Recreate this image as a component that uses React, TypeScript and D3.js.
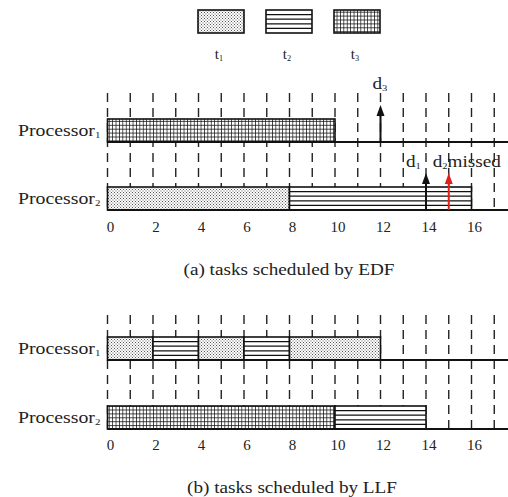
import React from "react";
import * as d3 from "d3";

// tasks shown in the legend (id -> fill pattern)
const tasks = [1, 2, 3];

// schedules: [task, start, end]
const edfP1: [number, number, number][] = [[3, 0, 10]];
const edfP2: [number, number, number][] = [
  [1, 0, 8],
  [2, 8, 16],
];
const llfP1: [number, number, number][] = [
  [1, 0, 2],
  [2, 2, 4],
  [1, 4, 6],
  [2, 6, 8],
  [1, 8, 12],
];
const llfP2: [number, number, number][] = [
  [3, 0, 10],
  [2, 10, 14],
];

// deadlines on EDF chart: [label, sub, time, row, missed]
const edfDeadlines: [string, string, number, number, boolean][] = [
  ["d", "3", 12, 0, false],
  ["d", "1", 14, 1, false],
  ["d", "2", 15, 1, true],
];

const gridTimes = d3.range(0, 18);
const tickValues = d3.range(0, 17, 2);

const W = 508;
const H = 497;
const FONT = "'Liberation Serif', 'Times New Roman', serif";
const SX = 1.2;

const x = d3.scaleLinear().domain([0, 17]).range([107.5, 494.25]);

const fillFor = (t: number) => `url(#pat-t${t})`;

const Txt = ({
  x0,
  y0,
  text,
  sub,
  size,
  anchor = "start",
  after,
  sx = SX,
  fill = "#222",
}: {
  x0: number;
  y0: number;
  text: string;
  sub?: string;
  size: number;
  anchor?: string;
  after?: string;
  sx?: number;
  fill?: string;
}) => (
  <text
    transform={`translate(${x0},${y0}) scale(${sx},1)`}
    fontFamily={FONT}
    fontSize={size}
    textAnchor={anchor}
    fill={fill}
  >
    {text}
    {sub && (
      <tspan fontSize={size * 0.55} dy={size * 0.15}>
        {sub}
      </tspan>
    )}
    {after && <tspan dy={-size * 0.15}>{after}</tspan>}
  </text>
);

const Bar = ({ task, start, end, top, h }: any) => {
  const x0 = x(start);
  const w = x(end) - x(start);
  return (
    <g>
      <rect x={x0} y={top} width={w} height={h} fill={fillFor(task)} />
      {task === 2 &&
        [1, 2, 3, 4].map((k) => (
          <line
            key={k}
            x1={x0}
            x2={x0 + w}
            y1={top + (k * h) / 5}
            y2={top + (k * h) / 5}
            stroke="#111"
            strokeWidth={1.2}
          />
        ))}
      <rect
        x={x0}
        y={top}
        width={w}
        height={h}
        fill="none"
        stroke="#111"
        strokeWidth={1.6}
      />
    </g>
  );
};

const Panel = ({
  rows,
  tops,
  dashTop,
  tickY,
  caption,
  capX,
  capY,
  deadlines,
}: {
  rows: [number, number, number][][];
  tops: number[];
  dashTop: number;
  tickY: number;
  caption: string;
  capX: number;
  capY: number;
  deadlines?: [string, string, number, number, boolean][];
}) => {
  const h = 23;
  const bottom = tops[tops.length - 1] + h;
  return (
    <g>
      {gridTimes.map((t) => (
        <line
          key={t}
          x1={x(t)}
          x2={x(t)}
          y1={dashTop}
          y2={bottom}
          stroke="#222"
          strokeWidth={1.4}
          strokeDasharray="9,6"
        />
      ))}
      {rows.map((row, i) => (
        <g key={i}>
          {row.map(([task, s, e], j) => (
            <Bar key={j} task={task} start={s} end={e} top={tops[i]} h={h} />
          ))}
          <line
            x1={x(0)}
            x2={W}
            y1={tops[i] + h}
            y2={tops[i] + h}
            stroke="#111"
            strokeWidth={2}
          />
          <Txt
            x0={18}
            y0={tops[i] + h / 2 + 5}
            text="Processor"
            sub={String(i + 1)}
            size={16.5}
          />
        </g>
      ))}
      {deadlines &&
        deadlines.map(([lab, sub, t, r, missed], k) => {
          const base = tops[r] + h;
          const tip = tops[r] - 14;
          const col = missed ? "#e0201b" : "#111";
          const cx = x(t);
          return (
            <g key={k}>
              <line
                x1={cx}
                x2={cx}
                y1={base}
                y2={tip + 8}
                stroke={col}
                strokeWidth={2}
              />
              <path
                d={`M${cx},${tip} L${cx - 4},${tip + 11} L${cx + 4},${tip + 11} Z`}
                fill={col}
              />
              <Txt
                x0={missed ? cx - 16 : r === 0 ? cx - 8 : cx - 20}
                y0={r === 0 ? tops[r] - 30 : tip - 6}
                text={lab}
                sub={sub}
                after={missed ? "missed" : undefined}
                size={16}
              />
            </g>
          );
        })}
      {tickValues.map((t) => (
        <Txt
          key={t}
          x0={x(t) + 3}
          y0={tickY}
          text={String(t)}
          size={15}
          sx={1}
          anchor="middle"
        />
      ))}
      <Txt x0={capX} y0={capY} text={caption} size={16} anchor="middle" />
    </g>
  );
};

export default function App() {
  return (
    <div style={{ position: "absolute", left: 0, top: 0, background: "#fff" }}>
      <svg width={W} height={H} style={{ display: "block" }}>
        <defs>
          <pattern
            id="pat-t1"
            patternUnits="userSpaceOnUse"
            width={3}
            height={3}
          >
            <rect width={3} height={3} fill="#fff" />
            <rect x={0} y={0} width={1} height={1} fill="#555" />
            <rect x={1.5} y={1.5} width={1} height={1} fill="#555" />
          </pattern>
          <pattern id="pat-t2" patternUnits="userSpaceOnUse" width={4} height={4}>
            <rect width={4} height={4} fill="#fff" />
          </pattern>
          <pattern
            id="pat-t3"
            patternUnits="userSpaceOnUse"
            width={3.4}
            height={3.9}
          >
            <rect width={3.4} height={3.9} fill="#fff" />
            <line x1={0.4} x2={0.4} y1={0} y2={3.9} stroke="#111" strokeWidth={0.8} />
            <line x1={0} x2={3.4} y1={0.4} y2={0.4} stroke="#111" strokeWidth={0.8} />
          </pattern>
        </defs>
        <rect width={W} height={H} fill="#fff" />

        {/* legend */}
        {tasks.map((t, i) => {
          const lx = 198 + i * 68;
          return (
            <g key={t}>
              <rect x={lx} y={10} width={46} height={23} fill={fillFor(t)} />
              {t === 2 &&
                [1, 2, 3, 4].map((k) => (
                  <line
                    key={k}
                    x1={lx}
                    x2={lx + 46}
                    y1={10 + (k * 23) / 5}
                    y2={10 + (k * 23) / 5}
                    stroke="#111"
                    strokeWidth={1.2}
                  />
                ))}
              <rect
                x={lx}
                y={10}
                width={46}
                height={23}
                fill="none"
                stroke="#111"
                strokeWidth={1.6}
              />
              <Txt
                x0={lx + 21}
                y0={59}
                text="t"
                sub={String(t)}
                size={15}
                sx={1}
                anchor="middle"
              />
            </g>
          );
        })}

        <Panel
          rows={[edfP1, edfP2]}
          tops={[119, 187]}
          dashTop={93}
          tickY={232}
          caption="(a)  tasks scheduled by EDF"
          capX={289}
          capY={275}
          deadlines={edfDeadlines}
        />
        <Panel
          rows={[llfP1, llfP2]}
          tops={[337, 406]}
          dashTop={315}
          tickY={450}
          caption="(b)  tasks scheduled by LLF"
          capX={292}
          capY={493}
        />
      </svg>
    </div>
  );
}
